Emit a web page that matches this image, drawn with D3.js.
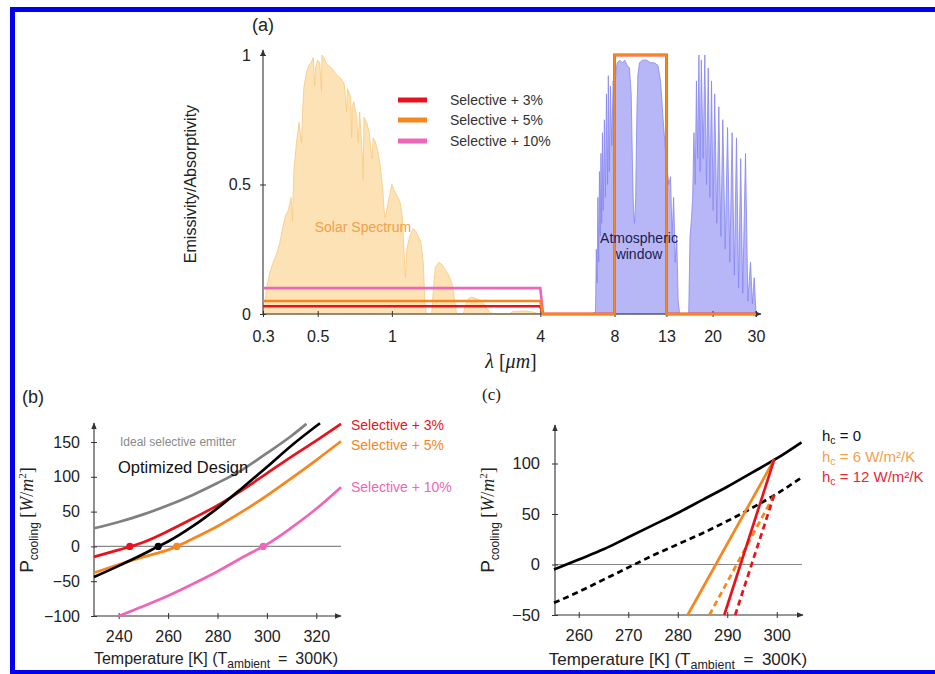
<!DOCTYPE html>
<html><head><meta charset="utf-8">
<script src="https://cdn.jsdelivr.net/npm/d3@7"></script>
<style>
body{margin:0;background:#fff}
svg{display:block}
text{font-family:"Liberation Sans",Arial,sans-serif}
</style>
</head><body>
<svg id="chart" width="935" height="674"></svg>
<script>
// ---------------- DATA ----------------
// Panel (a): normalised solar spectrum [wavelength µm, value]
const solarSpectrum = [
 [0.300,0.00],[0.305,0.03],[0.310,0.10],[0.320,0.16],[0.330,0.20],[0.340,0.23],[0.350,0.27],[0.360,0.33],
 [0.370,0.38],[0.380,0.40],[0.390,0.45],[0.395,0.36],[0.400,0.55],[0.410,0.66],[0.420,0.74],[0.430,0.66],
 [0.435,0.80],[0.440,0.88],[0.450,0.93],[0.460,0.96],[0.470,0.97],[0.480,0.99],[0.486,0.88],[0.490,0.95],
 [0.500,0.98],[0.510,0.97],[0.518,0.86],[0.520,1.00],[0.530,0.99],[0.540,0.97],[0.550,0.96],[0.570,0.95],
 [0.590,0.93],[0.600,0.92],[0.620,0.91],[0.640,0.89],[0.656,0.78],[0.660,0.87],[0.680,0.84],[0.687,0.68],
 [0.690,0.80],[0.700,0.82],[0.720,0.76],[0.730,0.66],[0.740,0.78],[0.760,0.60],[0.765,0.52],[0.770,0.76],
 [0.790,0.74],[0.810,0.70],[0.820,0.64],[0.830,0.60],[0.840,0.68],[0.860,0.66],[0.880,0.62],[0.900,0.56],
 [0.920,0.47],[0.930,0.40],[0.940,0.37],[0.960,0.42],[0.980,0.46],[1.000,0.50],[1.030,0.47],[1.060,0.45],
 [1.080,0.43],[1.100,0.38],[1.120,0.24],[1.135,0.14],[1.150,0.25],[1.180,0.30],[1.220,0.33],[1.250,0.32],
 [1.280,0.30],[1.310,0.28],[1.340,0.20],[1.360,0.05],[1.380,0.00],[1.450,0.00],[1.470,0.08],[1.500,0.18],
 [1.550,0.20],[1.600,0.19],[1.650,0.17],[1.700,0.15],[1.750,0.12],[1.800,0.05],[1.830,0.00],[1.950,0.00],
 [1.980,0.03],[2.050,0.06],[2.100,0.065],[2.200,0.06],[2.300,0.05],[2.400,0.03],[2.500,0.005],[2.600,0.00],
 [3.000,0.00],[3.100,0.01],[3.500,0.012],[3.700,0.008],[4.000,0.00]
];
// Panel (a): atmospheric transmittance [wavelength µm, value]
const atmTransmittance = [
 [6.5,0],[6.7,0.01],[6.75,0.25],[6.8,0.12],[6.85,0.45],[6.9,0.2],[6.95,0.55],[7.0,0.3],[7.05,0.62],[7.1,0.35],
 [7.15,0.7],[7.2,0.4],[7.28,0.75],[7.35,0.45],[7.42,0.85],[7.5,0.5],[7.55,0.92],[7.62,0.55],[7.7,0.88],[7.8,0.65],
 [7.9,0.9],[8.0,0.8],[8.1,0.93],[8.2,0.97],[8.4,0.98],[8.6,0.97],[8.8,0.98],[9.0,0.96],[9.2,0.95],[9.35,0.85],
 [9.45,0.6],[9.55,0.4],[9.65,0.35],[9.75,0.45],[9.85,0.75],[9.95,0.92],[10.1,0.97],[10.4,0.98],[10.8,0.98],
 [11.2,0.97],[11.6,0.97],[12.0,0.96],[12.3,0.9],[12.6,0.75],[12.9,0.62],[13.1,0.55],[13.3,0.5],[13.5,0.53],
 [13.7,0.3],[13.9,0.45],[14.1,0.2],[14.3,0.3],[14.5,0.05],[14.7,0],[16.0,0],[16.2,0.3],[16.4,0.36],[16.6,0.45],
 [16.8,0.7],[17.0,0.5],[17.2,0.9],[17.4,0.6],[17.6,1.0],[17.8,0.55],[18.0,0.98],[18.3,0.6],[18.6,1.0],[18.9,0.5],
 [19.2,0.95],[19.5,0.45],[19.8,0.9],[20.1,0.4],[20.4,0.85],[20.8,0.35],[21.2,0.8],[21.6,0.3],[22.0,0.75],
 [22.5,0.25],[23.0,0.72],[23.5,0.2],[24.0,0.7],[24.5,0.15],[25.0,0.68],[25.5,0.1],[26.0,0.6],[26.5,0.08],
 [27.2,0.62],[27.8,0.05],[28.5,0.2],[29.0,0.04],[29.5,0.14],[30,0]
];
// Panel (a): emitter emissivity profiles
const emitterLambda = [0.3, 4, 4.1, 8, 8, 13, 13, 30];
const emitter3  = [0.03, 0.03, 0, 0, 1, 1, 0, 0];
const emitter5  = [0.05, 0.05, 0, 0, 1, 1, 0, 0];
const emitter10 = [0.10, 0.10, 0, 0, 1, 1, 0, 0];
const aXTicks = [0.3, 0.5, 1, 4, 8, 13, 20, 30];
const aXTickLabels = ["0.3", "0.5", "1", "4", "8", "13", "20", "30"];
const aYTicks = [0, 0.5, 1];
const aYTickLabels = ["0", "0.5", "1"];
const aLegend = ["Selective + 3%", "Selective + 5%", "Selective + 10%"];

// Panel (b): cooling power vs temperature
const bGrayT = [230,240,250,260,270,280,290,300,310,316];
const bGrayP = [26,35,46,59,74,91,110,134,159,176];
const bOptT  = [230,240,250,256,260,270,280,290,300,310,321.5];
const bOptP  = [-44,-28,-11,0,7,29,55,84,114,145,177];
const bSel3T = [230,240,245,250,260,270,280,290,300,310,320,330];
const bSel3P = [-15,-5,0,6,22,40,59,81,105,129,152,176];
const bSel5T = [230,240,250,260,263.5,270,280,290,300,310,320,330];
const bSel5P = [-38,-26,-15,-5,0,11,29,50,73,98,124,151];
const bSel10T = [240,250,260,270,280,290,298.5,300,310,320,330];
const bSel10P = [-100,-86,-71,-54,-36,-16,0,3,27,54,85];
const bEquilibriumT = [244.5, 256, 263.5, 298.5];
const bXTicks = [240,260,280,300,320];
const bYTicks = [-100,-50,0,50,100,150];
const bYTickLabels = ["\u2212100","\u221250","0","50","100","150"];

// Panel (c): effect of convection
const cT = [255,260,265,270,275,280,285,290,295,300,305];
const cH0 = [-5,5,15,27,39,51,64,77,91,105,121];
const cH0Dash = [-38,-27,-15,-3,9,20,31,43,56,70,86];
const cH6T = [282, 299.5],  cH6P = [-50, 104];
const cH12T = [289.4, 299.5], cH12P = [-50, 104];
const cH6DashT = [286.4, 299.5], cH6DashP = [-50, 69];
const cH12DashT = [291.6, 299.5], cH12DashP = [-50, 69];
const cXTicks = [260,270,280,290,300];
const cYTicks = [-50,0,50,100];
const cYTickLabels = ["\u221250","0","50","100"];

// ---------------- STYLE ----------------
const RED = "#e8121c", ORANGE = "#f7861c", PINK = "#ee66b8", GRAY = "#808080";
const AX = "#333";

const svg = d3.select("#chart");
const defs = svg.append("defs");
defs.append("marker").attr("id","arr").attr("viewBox","0 0 10 10")
  .attr("refX",9).attr("refY",5).attr("markerWidth",7).attr("markerHeight",7)
  .attr("markerUnits","userSpaceOnUse").attr("orient","auto")
  .append("path").attr("d","M0,1 L10,5 L0,9 z").attr("fill",AX);

// blue frame
svg.append("rect").attr("x",10).attr("y",7).attr("width",925).attr("height",5).attr("fill","#0000ee");
svg.append("rect").attr("x",10).attr("y",7).attr("width",5).attr("height",667).attr("fill","#0000ee");
svg.append("rect").attr("x",10).attr("y",670).attr("width",925).attr("height",4).attr("fill","#0000ee");

function rich(sel, parts){
  parts.forEach(p=>{
    const t = sel.append("tspan").text(p.t);
    if(p.size) t.attr("font-size",p.size);
    if(p.dy) t.attr("dy",p.dy);
    if(p.serif) t.style("font-family","'Liberation Serif','Times New Roman',serif");
    if(p.italic) t.attr("font-style","italic");
  });
  return sel;
}
function axisLine(x1,y1,x2,y2){
  svg.append("line").attr("x1",x1).attr("y1",y1).attr("x2",x2).attr("y2",y2)
    .attr("stroke",AX).attr("stroke-width",1.1).attr("marker-end","url(#arr)");
}
function styleAxis(g, size, vertical){
  g.select(".domain").remove();
  g.attr("font-family",null).attr("font-size",null);
  g.selectAll(".tick text").attr("font-size",size).attr("fill","#222")
    .style("font-family","'Liberation Sans',Arial,sans-serif");
  if(vertical) g.selectAll(".tick line").attr("x1",-3).attr("x2",3).attr("stroke",AX);
  else g.selectAll(".tick line").attr("y1",-3).attr("y2",3).attr("stroke",AX);
}

// ================= PANEL (a) =================
const xA = d3.scaleLog().domain([0.3,30]).range([263,756]);
const yA = d3.scaleLinear().domain([0,1]).range([314,55]);
const areaA = d3.area().x(d=>xA(d[0])).y0(yA(0)).y1(d=>yA(d[1]));

svg.append("path").datum(solarSpectrum).attr("d",areaA)
  .attr("fill","#fde2b6").attr("stroke","#f8c97e").attr("stroke-width",0.8);
svg.append("path").datum(atmTransmittance).attr("d",areaA)
  .attr("fill","#b7b7f7").attr("stroke","#8585f0").attr("stroke-width",0.8);

const gAx = svg.append("g").attr("transform","translate(0,314)")
  .call(d3.axisBottom(xA).tickValues(aXTicks).tickFormat((d,i)=>aXTickLabels[i])
    .tickSizeInner(3).tickSizeOuter(0).tickPadding(13.6));
styleAxis(gAx,16,false);
const gAy = svg.append("g").attr("transform","translate(263,0)")
  .call(d3.axisLeft(yA).tickValues(aYTicks).tickFormat((d,i)=>aYTickLabels[i])
    .tickSizeInner(3).tickSizeOuter(0).tickPadding(9));
styleAxis(gAy,16,true);
axisLine(263,314,761,314);
axisLine(263,314,263,50);

const lineA = d3.line().x(d=>xA(d[0])).y(d=>yA(d[1]));
[[emitter10,PINK],[emitter3,RED],[emitter5,ORANGE]].forEach(([vals,c])=>{
  svg.append("path").datum(emitterLambda.map((l,i)=>[l,vals[i]])).attr("d",lineA)
    .attr("fill","none").attr("stroke",c).attr("stroke-width",2.6).attr("stroke-linejoin","miter");
});

// legend (a)
[RED,ORANGE,PINK].forEach((c,i)=>{
  const y = [100,120,141][i];
  svg.append("line").attr("x1",398).attr("x2",427).attr("y1",y).attr("y2",y)
    .attr("stroke",c).attr("stroke-width",5);
  svg.append("text").attr("x",450).attr("y",y+5).attr("font-size",14).attr("fill","#333").text(aLegend[i]);
});

svg.append("text").attr("x",363).attr("y",232).attr("text-anchor","middle")
  .attr("font-size",14).attr("fill","#f0a048").text("Solar Spectrum");
svg.append("text").attr("x",639).attr("y",243).attr("text-anchor","middle")
  .attr("font-size",14).attr("fill","#1c1c50").text("Atmospheric");
svg.append("text").attr("x",639).attr("y",259).attr("text-anchor","middle")
  .attr("font-size",14).attr("fill","#1c1c50").text("window");

svg.append("text").attr("x",263).attr("y",31).attr("text-anchor","middle")
  .attr("font-size",18).attr("fill","#222").text("(a)");
svg.append("text").attr("transform","translate(196,184) rotate(-90)").attr("text-anchor","middle")
  .attr("font-size",16).attr("fill","#222").text("Emissivity/Absorptivity");
rich(svg.append("text").attr("x",511).attr("y",368).attr("text-anchor","middle")
  .attr("font-size",20).attr("fill","#222"),
  [{t:"\u03bb",serif:true,italic:true},{t:" [",serif:true},{t:"\u03bcm",serif:true,italic:true},{t:"]",serif:true}]);

// ================= PANEL (b) =================
const xB = d3.scaleLinear().domain([230,330]).range([94,341]);
const yB = d3.scaleLinear().domain([-100,150]).range([616,442]);
svg.append("line").attr("x1",94).attr("x2",341).attr("y1",yB(0)).attr("y2",yB(0))
  .attr("stroke","#888").attr("stroke-width",1.2);
const gBx = svg.append("g").attr("transform","translate(0,616)")
  .call(d3.axisBottom(xB).tickValues(bXTicks).tickSizeInner(3).tickSizeOuter(0).tickPadding(11.6));
styleAxis(gBx,16,false);
const gBy = svg.append("g").attr("transform","translate(94,0)")
  .call(d3.axisLeft(yB).tickValues(bYTicks).tickFormat((d,i)=>bYTickLabels[i])
    .tickSizeInner(3).tickSizeOuter(0).tickPadding(11));
styleAxis(gBy,16,true);
axisLine(94,616,341,616);
axisLine(94,616,94,423);

const lineB = d3.line().curve(d3.curveMonotoneX).x(d=>xB(d[0])).y(d=>yB(d[1]));
const bSeries = [
  [bGrayT,bGrayP,GRAY],[bSel10T,bSel10P,PINK],[bSel5T,bSel5P,ORANGE],
  [bSel3T,bSel3P,RED],[bOptT,bOptP,"#000"]
];
bSeries.forEach(([T,P,c])=>{
  svg.append("path").datum(T.map((t,i)=>[t,P[i]])).attr("d",lineB)
    .attr("fill","none").attr("stroke",c).attr("stroke-width",2.7);
});
[RED,"#000",ORANGE,PINK].forEach((c,i)=>{
  svg.append("circle").attr("cx",xB(bEquilibriumT[i])).attr("cy",yB(0)).attr("r",3.6).attr("fill",c);
});
svg.append("text").attr("x",120).attr("y",446).attr("font-size",12).attr("fill","#8a8a8a")
  .text("Ideal selective emitter");
svg.append("text").attr("x",118).attr("y",473).attr("font-size",16.5).attr("fill","#111")
  .text("Optimized Design");
[["Selective + 3%",RED,430],["Selective + 5%",ORANGE,450],["Selective + 10%",PINK,492]].forEach(([t,c,y])=>{
  svg.append("text").attr("x",351).attr("y",y).attr("font-size",14).attr("fill",c).text(t);
});
svg.append("text").attr("x",22).attr("y",403).attr("font-size",18).attr("fill","#222").text("(b)");
rich(svg.append("text").attr("transform","translate(33,520) rotate(-90)").attr("text-anchor","middle")
  .attr("fill","#222").attr("font-size",19),
  [{t:"P"},{t:"cooling",size:12,dy:5},{t:" [",serif:true,size:18,dy:-5},{t:"W",serif:true,italic:true,size:18},
   {t:"/",serif:true,size:18},{t:"m",serif:true,italic:true,size:18},{t:"2",serif:true,size:11,dy:-7},
   {t:"]",serif:true,size:18,dy:7}]);
rich(svg.append("text").attr("x",216).attr("y",664).attr("text-anchor","middle")
  .attr("fill","#222").attr("font-size",16),
  [{t:"Temperature [K] (T"},{t:"ambient",size:12,dy:4},{t:"\u2002=\u2002300K)",dy:-4}]);

// ================= PANEL (c) =================
const xC = d3.scaleLinear().domain([255,305]).range([554,801.5]);
const yC = d3.scaleLinear().domain([-50,100]).range([615,463.5]);
svg.append("line").attr("x1",555).attr("x2",802).attr("y1",yC(0)).attr("y2",yC(0))
  .attr("stroke","#888").attr("stroke-width",1.2);
const gCx = svg.append("g").attr("transform","translate(0,615)")
  .call(d3.axisBottom(xC).tickValues(cXTicks).tickSizeInner(3).tickSizeOuter(0).tickPadding(11.6));
styleAxis(gCx,16.5,false);
const gCy = svg.append("g").attr("transform","translate(555,0)")
  .call(d3.axisLeft(yC).tickValues(cYTicks).tickFormat((d,i)=>cYTickLabels[i])
    .tickSizeInner(3).tickSizeOuter(0).tickPadding(12));
styleAxis(gCy,16.5,true);
axisLine(555,615,803,615);
axisLine(555,615,555,425);

const lineC = d3.line().curve(d3.curveMonotoneX).x(d=>xC(d[0])).y(d=>yC(d[1]));
const cSeries = [
  [cT,cH0Dash,"#000",true],[cT,cH0,"#000",false],
  [cH6DashT,cH6DashP,ORANGE,true],[cH6T,cH6P,ORANGE,false],
  [cH12DashT,cH12DashP,RED,true],[cH12T,cH12P,RED,false]
];
cSeries.forEach(([T,P,c,dash])=>{
  svg.append("path").datum(T.map((t,i)=>[t,P[i]])).attr("d",lineC)
    .attr("fill","none").attr("stroke",c).attr("stroke-width",2.7)
    .attr("stroke-dasharray",dash?"6,4":null);
});
[["0","#111",441],["6 W/m\u00b2/K","#f4a04c",462],["12 W/m\u00b2/K","#e8283a",482]].forEach(([v,c,y])=>{
  rich(svg.append("text").attr("x",822).attr("y",y).attr("font-size",15).attr("fill",c),
    [{t:"h"},{t:"c",size:10.5,dy:3},{t:" = "+v,dy:-3}]);
});
svg.append("text").attr("x",482).attr("y",400).attr("font-size",17).attr("fill","#222")
  .style("font-family","'Liberation Serif','Times New Roman',serif").text("(c)");
rich(svg.append("text").attr("transform","translate(494,520) rotate(-90)").attr("text-anchor","middle")
  .attr("fill","#222").attr("font-size",19),
  [{t:"P"},{t:"cooling",size:12,dy:5},{t:" [",serif:true,size:18,dy:-5},{t:"W",serif:true,italic:true,size:18},
   {t:"/",serif:true,size:18},{t:"m",serif:true,italic:true,size:18},{t:"2",serif:true,size:11,dy:-7},
   {t:"]",serif:true,size:18,dy:7}]);
rich(svg.append("text").attr("x",678).attr("y",665).attr("text-anchor","middle")
  .attr("fill","#222").attr("font-size",17),
  [{t:"Temperature [K] (T"},{t:"ambient",size:12.5,dy:4},{t:"\u2002=\u2002300K)",dy:-4}]);
</script>
</body></html>
